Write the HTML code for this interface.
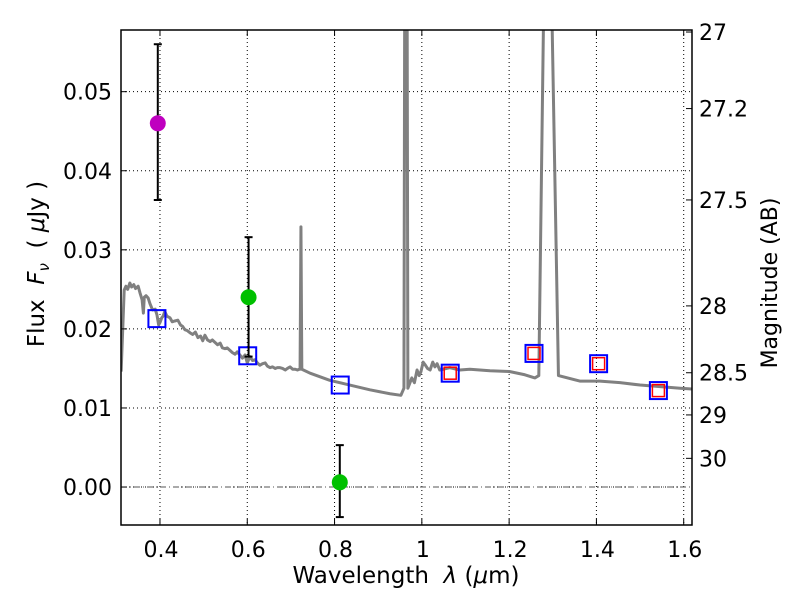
<!DOCTYPE html>
<html><head><meta charset="utf-8"><style>
html,body{margin:0;padding:0;background:#fff;}
svg text{font-family:"DejaVu Sans","Liberation Sans",sans-serif;fill:#000;}
</style></head><body>
<svg id="chart" width="800" height="600" viewBox="0 0 800 600" xmlns="http://www.w3.org/2000/svg" style="position:absolute;left:0;top:0">
<rect width="800" height="600" fill="#fff"/>
<defs><clipPath id="plotclip"><rect x="121" y="30" width="571" height="495"/></clipPath></defs>
<g id="grid"></g>
<g id="marks" clip-path="url(#plotclip)"></g>
<g id="axes"></g>
<text x="406" y="583" font-size="23" text-anchor="middle">Wavelength&#160;&#160;<tspan font-style="italic">λ</tspan>&#160;(<tspan font-style="italic">μ</tspan>m)</text>
<text transform="translate(44,264) rotate(-90)" font-size="23" text-anchor="middle">Flux&#160;&#160;<tspan font-style="italic">F</tspan><tspan font-style="italic" font-size="15" dy="5">ν</tspan><tspan dy="-5">&#160;&#160;(&#160;</tspan><tspan font-style="italic">μ</tspan>Jy&#160;)</text>
<text transform="translate(777,283) rotate(-90)" font-size="22" text-anchor="middle">Magnitude (AB)</text>
</svg>
<script>
const xTicks=[0.4,0.6,0.8,1.0,1.2,1.4,1.6];
const xTickLabels=["0.4","0.6","0.8","1","1.2","1.4","1.6"];
const yTicks=[0,0.01,0.02,0.03,0.04,0.05];
const yTickLabels=["0.00","0.01","0.02","0.03","0.04","0.05"];
const magTicks=[27,27.2,27.5,28,28.5,29,30];
const magTickLabels=["27","27.2","27.5","28","28.5","29","30"];
const specWave=[0.311,0.318,0.322,0.326,0.331,0.335,0.340,0.344,0.350,0.354,0.359,0.362,0.364,0.368,0.373,0.377,0.383,0.389,0.393,0.397,0.400,0.404,0.407,0.411,0.416,0.423,0.428,0.434,0.441,0.447,0.452,0.457,0.462,0.469,0.475,0.481,0.487,0.493,0.498,0.503,0.509,0.515,0.520,0.526,0.532,0.538,0.543,0.549,0.554,0.560,0.566,0.572,0.577,0.583,0.589,0.595,0.600,0.606,0.612,0.618,0.623,0.629,0.635,0.641,0.646,0.652,0.658,0.664,0.669,0.675,0.681,0.687,0.692,0.698,0.704,0.710,0.715,0.719,0.721,0.723,0.725,0.744,0.789,0.835,0.881,0.927,0.952,0.959,0.961,0.966,0.968,0.977,0.983,0.989,0.994,0.998,1.003,1.007,1.013,1.019,1.025,1.030,1.035,1.041,1.064,1.087,1.110,1.156,1.202,1.236,1.259,1.268,1.279,1.284,1.293,1.298,1.313,1.362,1.408,1.454,1.500,1.546,1.592,1.619];
const specFlux=[0.0146,0.0249,0.0254,0.0250,0.0258,0.0253,0.0256,0.0251,0.0254,0.0246,0.0237,0.0220,0.0240,0.0242,0.0239,0.0232,0.0224,0.0225,0.0218,0.0205,0.0208,0.0214,0.0216,0.0222,0.0216,0.0214,0.0209,0.0210,0.0211,0.0205,0.0203,0.0199,0.0198,0.0195,0.0193,0.0196,0.0189,0.0191,0.0185,0.0192,0.0186,0.0184,0.0186,0.0183,0.0180,0.0182,0.0176,0.0175,0.0176,0.0173,0.0170,0.0168,0.0171,0.0167,0.0163,0.0167,0.0157,0.0165,0.0160,0.0161,0.0157,0.0154,0.0156,0.0157,0.0153,0.0151,0.0152,0.0150,0.0151,0.0151,0.0150,0.0148,0.0150,0.0152,0.0149,0.0149,0.0148,0.0149,0.0149,0.0329,0.0149,0.0144,0.0135,0.0129,0.0123,0.0118,0.0116,0.0125,0.07,0.07,0.0125,0.0138,0.0132,0.0148,0.0141,0.0146,0.0158,0.0155,0.0150,0.0148,0.0158,0.0152,0.0156,0.0148,0.0151,0.0148,0.0149,0.0147,0.0146,0.0142,0.0138,0.0141,0.06,0.07,0.07,0.06,0.0141,0.0134,0.0134,0.0132,0.0129,0.0127,0.0125,0.0124];
const obsWave=[0.395,0.603,0.812];
const obsFlux=[0.046,0.024,0.0006];
const obsLo=[0.0363,0.0165,-0.0038];
const obsHi=[0.056,0.0316,0.0053];
const obsColor=["#bf00bf","#00c000","#00c000"];
const modelWave=[0.393,0.601,0.813,1.065,1.257,1.405,1.542];
const modelFlux=[0.0213,0.0166,0.0129,0.0144,0.0169,0.0156,0.0122];
const redWave=[1.065,1.257,1.405,1.542];
const redFlux=[0.0144,0.0169,0.0156,0.0122];

const X0=121,X1=692,Y0=30,Y1=525;
const xmin=0.3107,xmax=1.619,ymin=-0.0048,ymax=0.0578;
const sx=v=>X0+(v-xmin)/(xmax-xmin)*(X1-X0);
const sy=v=>Y1-(v-ymin)/(ymax-ymin)*(Y1-Y0);
const magToFlux=m=>Math.pow(10,(23.9-m)/2.5);
const NS="http://www.w3.org/2000/svg";
function mk(tag,attrs,parent){const e=document.createElementNS(NS,tag);for(const k in attrs)e.setAttribute(k,attrs[k]);parent.appendChild(e);return e;}
const grid=document.getElementById('grid'),marks=document.getElementById('marks'),axes=document.getElementById('axes');

xTicks.forEach((t,i)=>{
  const x=sx(t);
  const g=mk('line',{x1:x,x2:x,y1:Y0,y2:Y1,stroke:'#000','stroke-width':1,'stroke-dasharray':'1,3'},grid);
  
  
  mk('line',{x1:x,x2:x,y1:Y1,y2:Y1-6,stroke:'#000'},axes);
  mk('line',{x1:x,x2:x,y1:Y0,y2:Y0+6,stroke:'#000'},axes);
  const tx=mk('text',{x:x+1,y:557,'font-size':22,'text-anchor':'middle'},axes);
  tx.textContent=xTickLabels[i];
  
  
});
yTicks.forEach((t,i)=>{
  const y=sy(t);
  const g=mk('line',{x1:X0,x2:X1,y1:y,y2:y,stroke:'#000','stroke-width':1,'stroke-dasharray':'1,3'},grid);
  
  
  mk('line',{x1:X0,x2:X0+6,y1:y,y2:y,stroke:'#000'},axes);
  const tx=mk('text',{x:112,y:y+8,'font-size':22,'text-anchor':'end'},axes);
  tx.textContent=yTickLabels[i];
  
  
});
const zl=mk('line',{x1:X0,x2:X1,y1:sy(0),y2:sy(0),stroke:'#555','stroke-width':1,'stroke-dasharray':'6,3,1,3'},grid);


magTicks.forEach((m,i)=>{
  const y=sy(magToFlux(m));
  mk('line',{x1:X1,x2:X1-6,y1:y,y2:y,stroke:'#000'},axes);
  const tx=mk('text',{x:699,y:y+8,'font-size':22},axes);
  tx.textContent=magTickLabels[i];
  
  
});

const sp=mk('polyline',{points:specWave.map((w,i)=>sx(w)+','+sy(specFlux[i])).join(' '),fill:'none',stroke:'#808080','stroke-width':3,'stroke-linejoin':'round'},marks);



modelWave.forEach((w,i)=>{
  const r=mk('rect',{x:sx(w)-8.5,y:sy(modelFlux[i])-8.5,width:17,height:17,fill:'none',stroke:'#0000ff','stroke-width':2},marks);
  
  
});
redWave.forEach((w,i)=>{
  const r=mk('rect',{x:sx(w)-6,y:sy(redFlux[i])-6,width:12,height:12,fill:'none',stroke:'#ff0000','stroke-width':1.5},marks);
  
  
});
obsWave.forEach((w,i)=>{
  const x=sx(w);
  const e=mk('line',{x1:x,x2:x,y1:sy(obsLo[i]),y2:sy(obsHi[i]),stroke:'#000','stroke-width':2},marks);
  
  
  mk('line',{x1:x-4,x2:x+4,y1:sy(obsLo[i]),y2:sy(obsLo[i]),stroke:'#000','stroke-width':2},marks);
  mk('line',{x1:x-4,x2:x+4,y1:sy(obsHi[i]),y2:sy(obsHi[i]),stroke:'#000','stroke-width':2},marks);
  const c=mk('circle',{cx:x,cy:sy(obsFlux[i]),r:8,fill:obsColor[i]},marks);
  
  
});
const fr=mk('rect',{x:X0,y:Y0,width:X1-X0,height:Y1-Y0,fill:'none',stroke:'#000','stroke-width':1.5},axes);


</script>
</body></html>
